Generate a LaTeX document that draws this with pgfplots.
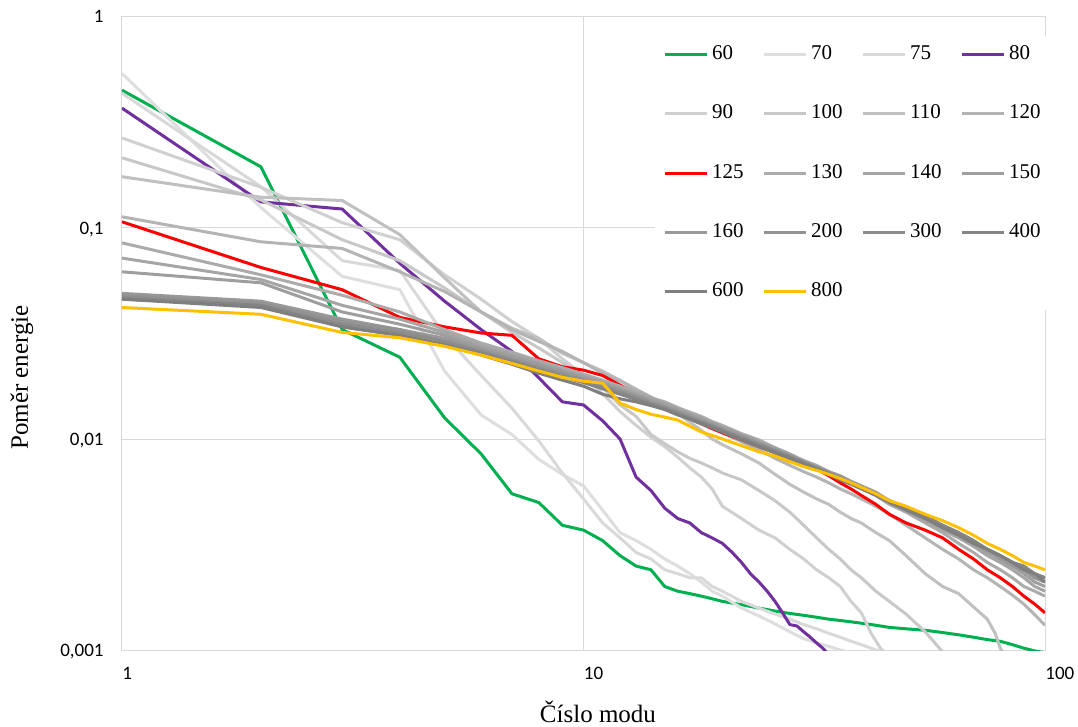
\documentclass[border=0pt]{standalone}
\usepackage{fontspec}
\setmainfont{Liberation Serif}
\newfontfamily\tickfont{Carlito}
\usepackage{pgfplots}
\pgfplotsset{compat=1.18}

\definecolor{c60}{HTML}{00B050}
\definecolor{c70}{HTML}{DEDEDE}
\definecolor{c75}{HTML}{D9D9D9}
\definecolor{c80}{HTML}{7030A0}
\definecolor{c90}{HTML}{D0D0D0}
\definecolor{c100}{HTML}{C8C8C8}
\definecolor{c110}{HTML}{C0C0C0}
\definecolor{c120}{HTML}{B4B4B4}
\definecolor{c125}{HTML}{FF0000}
\definecolor{c130}{HTML}{ABABAB}
\definecolor{c140}{HTML}{A5A5A5}
\definecolor{c150}{HTML}{9E9E9E}
\definecolor{c160}{HTML}{999999}
\definecolor{c200}{HTML}{939393}
\definecolor{c300}{HTML}{8C8C8C}
\definecolor{c400}{HTML}{858585}
\definecolor{c600}{HTML}{7F7F7F}
\definecolor{c800}{HTML}{FFC000}
\definecolor{gridc}{HTML}{D9D9D9}

\begin{document}
\begin{tikzpicture}
\begin{axis}[
  scale only axis,
  width=461.5pt, height=316.5pt,
  xmode=log, ymode=log,
  xmin=1, xmax=100, ymin=0.001, ymax=1,
  xtick={1,10,100}, xticklabels={1,10,100},
  ytick={0.001,0.01,0.1,1}, yticklabels={{0,001},{0,01},{0,1},{1}},
  xminorticks=false, yminorticks=false,
  major tick length=0pt,
  grid=major,
  major grid style={draw=gridc, line width=0.5pt},
  axis line style={draw=gridc, line width=0.5pt},
  xticklabel style={font=\tickfont\fontsize{9.5}{11}\selectfont, inner sep=0pt, anchor=north west, yshift=-8.5pt},
  yticklabel style={font=\tickfont\fontsize{9.5}{11}\selectfont, inner sep=0pt, anchor=base east, xshift=-9pt, yshift=-3pt},
  xlabel={Číslo modu},
  ylabel={Poměr energie},
  xlabel style={font=\fontsize{12.5}{14}\selectfont, at={(rel axis cs:0.5157,0)}, anchor=center, yshift=-31pt},
  ylabel style={font=\fontsize{12.5}{14}\selectfont, at={(rel axis cs:0,0.4305)}, anchor=center, yshift=50pt},
  every axis plot/.append style={line width=1.5pt, line join=round},
  legend columns=4,
  legend cell align=left,
  legend image code/.code={\draw[#1] (0pt,0pt) -- (21pt,0pt);},
  legend style={
    at={(rel axis cs:0.5775,0.970)}, anchor=north west,
    draw=none, fill=white, inner xsep=4pt, inner ysep=4pt,
    font=\fontsize{10.5}{12}\selectfont,
    row sep=19.7pt,
    nodes={inner sep=0pt, text width=17pt, text height=7.5pt, text depth=2.5pt, align=left},
    /tikz/every odd column/.append style={column sep=1.8pt},
    /tikz/every even column/.append style={column sep=8.2pt},
  },
]

% 60
\addplot[c60] coordinates {(1,0.45) (2,0.195) (3,0.033) (4,0.0244) (5,0.0126) (6,0.0085) (7,0.0055) (8,0.0050) (9,0.0039) (10,0.0037) (11,0.0033) (12,0.0028) (13,0.0025) (14,0.0024) (15,0.0020) (16,0.0019) (17,0.00185) (18,0.0018) (19,0.00175) (20,0.0017) (22,0.00164) (24,0.00158) (26,0.00153) (28,0.00149) (30,0.00146) (32,0.00143) (34,0.0014) (36,0.00138) (38,0.00136) (40,0.00134) (43,0.00131) (46,0.00128) (50,0.00126) (55,0.00124) (60,0.00121) (65,0.00118) (70,0.00115) (75,0.00112) (80,0.00110) (85,0.00106) (90,0.00102) (95,0.00099) (100,0.00097)};
\addlegendentry{60}
% 70
\addplot[c70] coordinates {(1,0.54) (2,0.125) (3,0.059) (4,0.051) (5,0.021) (6,0.013) (7,0.0105) (8,0.0080) (9,0.0068) (10,0.0060) (11,0.0046) (12,0.0036) (13,0.0033) (14,0.0030) (15,0.0027) (16,0.0025) (17,0.0023) (18,0.0021) (19,0.0019) (20,0.0018) (22,0.00158) (24,0.00145) (26,0.00133) (28,0.00122) (30,0.00113) (32,0.00108) (34,0.00104) (36,0.00100) (38,0.00097)};
\addlegendentry{70}
% 75
\addplot[c75] coordinates {(1,0.435) (2,0.157) (3,0.070) (4,0.063) (5,0.031) (6,0.020) (7,0.014) (8,0.0098) (9,0.0069) (10,0.0052) (11,0.0040) (12,0.0034) (13,0.0029) (14,0.0027) (15,0.0024) (16,0.0023) (17,0.0022) (18,0.0022) (19,0.0020) (20,0.0019) (22,0.0017) (24,0.00158) (26,0.00148) (28,0.0014) (30,0.00132) (32,0.00126) (34,0.0012) (36,0.00115) (38,0.0011) (40,0.00106) (43,0.00100) (46,0.00096)};
\addlegendentry{75}
% 80
\addplot[c80] coordinates {(1,0.37) (2,0.133) (3,0.123) (4,0.068) (5,0.045) (6,0.033) (7,0.026) (8,0.0195) (9,0.0150) (10,0.0145) (11,0.0122) (12,0.0100) (13,0.0066) (14,0.0057) (15,0.0047) (16,0.0042) (17,0.0040) (18,0.0036) (19,0.0034) (20,0.0032) (21,0.0029) (22,0.0026) (23,0.0023) (24,0.0021) (25,0.0019) (26,0.0017) (27,0.0015) (28,0.00132) (29,0.0013) (30,0.00122) (31,0.00115) (32,0.00108) (33,0.00102) (34,0.00095)};
\addlegendentry{80}
% 90
\addplot[c90] coordinates {(1,0.267) (2,0.156) (3,0.106) (4,0.088) (5,0.060) (6,0.046) (7,0.036) (8,0.030) (9,0.024) (10,0.020) (11,0.0164) (12,0.0135) (13,0.0116) (14,0.0102) (15,0.0092) (16,0.0082) (17,0.0073) (18,0.0066) (19,0.0058) (20,0.0048) (22,0.0042) (24,0.0037) (26,0.0034) (28,0.0030) (30,0.0027) (32,0.0024) (34,0.0022) (36,0.0020) (38,0.0017) (40,0.0015) (42,0.0012) (44,0.00102) (45,0.00097)};
\addlegendentry{90}
% 100
\addplot[c100] coordinates {(1,0.215) (2,0.136) (3,0.088) (4,0.070) (5,0.052) (6,0.040) (7,0.032) (8,0.027) (9,0.023) (10,0.020) (11,0.0175) (12,0.0145) (13,0.0128) (14,0.0105) (15,0.0095) (16,0.0087) (17,0.0081) (18,0.0077) (19,0.0073) (20,0.0069) (22,0.0064) (24,0.0057) (26,0.0051) (28,0.0045) (30,0.0039) (32,0.0034) (34,0.0030) (36,0.0027) (38,0.0024) (40,0.0022) (43,0.0019) (46,0.0017) (50,0.00148) (55,0.00122) (60,0.00098)};
\addlegendentry{100}
% 110
\addplot[c110] coordinates {(1,0.175) (2,0.14) (3,0.135) (4,0.093) (5,0.058) (6,0.040) (7,0.0335) (8,0.030) (9,0.0255) (10,0.023) (11,0.021) (12,0.019) (13,0.0172) (14,0.0158) (15,0.0145) (16,0.0133) (17,0.0120) (18,0.0110) (19,0.0100) (20,0.0094) (22,0.0085) (24,0.0077) (26,0.0068) (28,0.0061) (30,0.0056) (32,0.0052) (34,0.0049) (36,0.0045) (38,0.0042) (40,0.0040) (43,0.0036) (46,0.0033) (50,0.0028) (55,0.0023) (60,0.0020) (65,0.00185) (70,0.0016) (75,0.0014) (78,0.0012) (80,0.00102) (82,0.00094)};
\addlegendentry{110}
% 120
\addplot[c120] coordinates {(1,0.113) (2,0.086) (3,0.080) (4,0.062) (5,0.050) (6,0.040) (7,0.033) (8,0.029) (9,0.026) (10,0.023) (11,0.0205) (12,0.0188) (13,0.0172) (14,0.0158) (15,0.0146) (16,0.0136) (17,0.0128) (18,0.0120) (19,0.0113) (20,0.0107) (22,0.0097) (24,0.0089) (26,0.0081) (28,0.0075) (30,0.0070) (32,0.0066) (34,0.0062) (36,0.0058) (38,0.0055) (40,0.0052) (43,0.0048) (46,0.0044) (50,0.0039) (55,0.0034) (60,0.0030) (65,0.0027) (70,0.0024) (75,0.0022) (80,0.0020) (85,0.00182) (90,0.00165) (95,0.00147) (100,0.00131)};
\addlegendentry{120}
% 125
\addplot[c125] coordinates {(1,0.107) (2,0.065) (3,0.051) (4,0.0377) (5,0.034) (6,0.0318) (7,0.031) (8,0.024) (9,0.022) (10,0.0212) (11,0.0200) (12,0.0180) (13,0.0165) (14,0.0150) (15,0.0140) (16,0.0132) (17,0.0125) (18,0.0118) (19,0.0112) (20,0.0107) (22,0.0099) (24,0.0092) (26,0.0086) (28,0.0081) (30,0.0077) (32,0.0072) (34,0.0067) (36,0.0062) (38,0.0058) (40,0.0054) (43,0.0049) (46,0.0044) (50,0.0040) (55,0.0037) (60,0.0034) (65,0.0030) (70,0.0027) (75,0.0024) (80,0.0022) (85,0.0020) (90,0.0018) (95,0.00165) (100,0.00150)};
\addlegendentry{125}
% 130
\addplot[c130] coordinates {(1,0.085) (2,0.060) (3,0.048) (4,0.040) (5,0.033) (6,0.0285) (7,0.0258) (8,0.0235) (9,0.0218) (10,0.0203) (11,0.0190) (12,0.0178) (13,0.0168) (14,0.0157) (15,0.0150) (16,0.0141) (17,0.0134) (18,0.0128) (19,0.0121) (20,0.0116) (22,0.0106) (24,0.0099) (26,0.0091) (28,0.0085) (30,0.0079) (32,0.0075) (34,0.0070) (36,0.0066) (38,0.0062) (40,0.0059) (43,0.0054) (46,0.0049) (50,0.0045) (55,0.0040) (60,0.0036) (65,0.0032) (70,0.0029) (75,0.0026) (80,0.0024) (85,0.0022) (90,0.0020) (95,0.0019) (100,0.0018)};
\addlegendentry{130}
% 140
\addplot[c140] coordinates {(1,0.072) (2,0.057) (3,0.043) (4,0.037) (5,0.032) (6,0.0278) (7,0.0252) (8,0.0230) (9,0.0212) (10,0.0200) (11,0.0186) (12,0.0175) (13,0.0163) (14,0.0155) (15,0.0146) (16,0.0139) (17,0.0131) (18,0.0126) (19,0.0119) (20,0.0114) (22,0.0105) (24,0.0097) (26,0.0090) (28,0.0084) (30,0.0079) (32,0.0074) (34,0.0070) (36,0.0066) (38,0.0063) (40,0.0059) (43,0.0055) (46,0.0050) (50,0.0046) (55,0.0041) (60,0.0037) (65,0.0034) (70,0.0031) (75,0.0028) (80,0.0026) (85,0.0024) (90,0.0022) (95,0.0020) (100,0.0019)};
\addlegendentry{140}
% 150
\addplot[c150] coordinates {(1,0.062) (2,0.055) (3,0.040) (4,0.035) (5,0.031) (6,0.0270) (7,0.0247) (8,0.0226) (9,0.0210) (10,0.0196) (11,0.0184) (12,0.0172) (13,0.0162) (14,0.0152) (15,0.0145) (16,0.0137) (17,0.0130) (18,0.0124) (19,0.0118) (20,0.0113) (22,0.0104) (24,0.0096) (26,0.0090) (28,0.0084) (30,0.0078) (32,0.0074) (34,0.0070) (36,0.0067) (38,0.0063) (40,0.0060) (43,0.0056) (46,0.0051) (50,0.0047) (55,0.0042) (60,0.0038) (65,0.0035) (70,0.0032) (75,0.0029) (80,0.0027) (85,0.0025) (90,0.0023) (95,0.0021) (100,0.0020)};
\addlegendentry{150}
% 160
\addplot[c160] coordinates {(1,0.049) (2,0.045) (3,0.037) (4,0.033) (5,0.030) (6,0.0265) (7,0.0240) (8,0.0222) (9,0.0206) (10,0.0193) (11,0.0181) (12,0.0170) (13,0.0160) (14,0.0150) (15,0.0142) (16,0.0135) (17,0.0129) (18,0.0122) (19,0.0117) (20,0.0111) (22,0.0103) (24,0.0095) (26,0.0089) (28,0.0083) (30,0.0078) (32,0.0073) (34,0.0069) (36,0.0066) (38,0.0062) (40,0.0059) (43,0.0055) (46,0.0051) (50,0.0047) (55,0.0042) (60,0.0038) (65,0.0035) (70,0.0032) (75,0.0030) (80,0.0027) (85,0.0025) (90,0.0024) (95,0.0022) (100,0.0021)};
\addlegendentry{160}
% 200
\addplot[c200] coordinates {(1,0.048) (2,0.044) (3,0.036) (4,0.033) (5,0.029) (6,0.0262) (7,0.0238) (8,0.0218) (9,0.0204) (10,0.0190) (11,0.0179) (12,0.0168) (13,0.0158) (14,0.0149) (15,0.0141) (16,0.0134) (17,0.0127) (18,0.0121) (19,0.0116) (20,0.0110) (22,0.0102) (24,0.0095) (26,0.0088) (28,0.0083) (30,0.0078) (32,0.0073) (34,0.0069) (36,0.0066) (38,0.0062) (40,0.0059) (43,0.0055) (46,0.0051) (50,0.0047) (55,0.0043) (60,0.0039) (65,0.0035) (70,0.0032) (75,0.0030) (80,0.0028) (85,0.0026) (90,0.0024) (95,0.0022) (100,0.0021)};
\addlegendentry{200}
% 300
\addplot[c300] coordinates {(1,0.047) (2,0.043) (3,0.035) (4,0.032) (5,0.029) (6,0.0258) (7,0.0235) (8,0.0215) (9,0.0200) (10,0.0188) (11,0.0176) (12,0.0166) (13,0.0156) (14,0.0147) (15,0.0140) (16,0.0133) (17,0.0126) (18,0.0120) (19,0.0115) (20,0.0110) (22,0.0101) (24,0.0094) (26,0.0088) (28,0.0082) (30,0.0077) (32,0.0073) (34,0.0069) (36,0.0065) (38,0.0062) (40,0.0059) (43,0.0055) (46,0.0051) (50,0.0047) (55,0.0043) (60,0.0039) (65,0.0036) (70,0.0033) (75,0.0030) (80,0.0028) (85,0.0026) (90,0.0024) (95,0.0023) (100,0.0022)};
\addlegendentry{300}
% 400
\addplot[c400] coordinates {(1,0.046) (2,0.043) (3,0.034) (4,0.031) (5,0.028) (6,0.0255) (7,0.0232) (8,0.0212) (9,0.0197) (10,0.0185) (11,0.0173) (12,0.0163) (13,0.0154) (14,0.0145) (15,0.0138) (16,0.0131) (17,0.0125) (18,0.0119) (19,0.0114) (20,0.0109) (22,0.0100) (24,0.0093) (26,0.0087) (28,0.0082) (30,0.0077) (32,0.0072) (34,0.0068) (36,0.0065) (38,0.0062) (40,0.0059) (43,0.0055) (46,0.0051) (50,0.0047) (55,0.0043) (60,0.0039) (65,0.0036) (70,0.0033) (75,0.0030) (80,0.0028) (85,0.0026) (90,0.0025) (95,0.0023) (100,0.0022)};
\addlegendentry{400}
% 600
\addplot[c600] coordinates {(1,0.046) (2,0.042) (3,0.034) (4,0.031) (5,0.028) (6,0.0250) (7,0.0226) (8,0.0205) (9,0.0190) (10,0.0178) (11,0.0163) (12,0.0155) (13,0.0150) (14,0.0144) (15,0.0138) (16,0.0130) (17,0.0124) (18,0.0118) (19,0.0113) (20,0.0108) (22,0.0099) (24,0.0092) (26,0.0086) (28,0.0081) (30,0.0076) (32,0.0072) (34,0.0068) (36,0.0064) (38,0.0061) (40,0.0058) (43,0.0054) (46,0.0050) (50,0.0046) (55,0.0042) (60,0.0038) (65,0.0035) (70,0.0032) (75,0.0030) (80,0.0028) (85,0.0026) (90,0.0024) (95,0.0023) (100,0.0021)};
\addlegendentry{600}
% 800
\addplot[c800] coordinates {(1,0.042) (2,0.039) (3,0.032) (4,0.0302) (5,0.0275) (6,0.025) (7,0.0228) (8,0.021) (9,0.0196) (10,0.0188) (11,0.0184) (12,0.0148) (13,0.0138) (14,0.0131) (15,0.0127) (16,0.0123) (17,0.0115) (18,0.0108) (19,0.0104) (20,0.0100) (22,0.0093) (24,0.0087) (26,0.0083) (28,0.0078) (30,0.0074) (32,0.0071) (34,0.0068) (36,0.0065) (38,0.0062) (40,0.0059) (43,0.0055) (46,0.0051) (50,0.0048) (55,0.0044) (60,0.0041) (65,0.0038) (70,0.0035) (75,0.0032) (80,0.0030) (85,0.0028) (90,0.0026) (95,0.0025) (100,0.0024)};
\addlegendentry{800}

\coordinate (ll) at (rel axis cs:0,0);
\coordinate (ur) at (rel axis cs:1,1);
\end{axis}
\pgfresetboundingbox
\path[use as bounding box] ([xshift=-61pt,yshift=-38.5pt]ll) rectangle ([xshift=16.5pt,yshift=8.5pt]ur);
\end{tikzpicture}
\end{document}
